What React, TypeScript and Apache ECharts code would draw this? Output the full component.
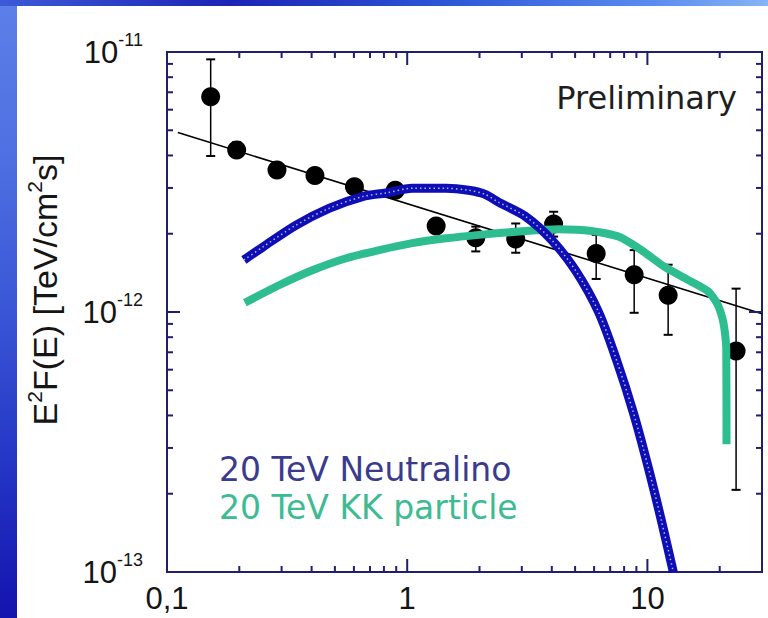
import { useEffect, useRef } from 'react';
import * as echarts from 'echarts';

// ---- data ----
const energy = [0.152, 0.195, 0.287, 0.413, 0.603, 0.892, 1.32, 1.93, 2.83, 4.07, 6.12, 8.81, 12.2, 23.4];
const flux = [6.73e-12, 4.2e-12, 3.52e-12, 3.35e-12, 3.03e-12, 2.94e-12, 2.14e-12, 1.93e-12, 1.91e-12, 2.18e-12, 1.68e-12, 1.39e-12, 1.16e-12, 0.708e-12];
const fluxHigh = [9.37e-12, 4.5e-12, 3.75e-12, 3.55e-12, 3.2e-12, 3.1e-12, 2.26e-12, 2.13e-12, 2.19e-12, 2.43e-12, 1.98e-12, 1.73e-12, 1.52e-12, 1.23e-12];
const fluxLow = [3.98e-12, 3.95e-12, 3.3e-12, 3.17e-12, 2.87e-12, 2.78e-12, 2.03e-12, 1.71e-12, 1.69e-12, 1.95e-12, 1.34e-12, 0.993e-12, 0.817e-12, 0.207e-12];

const fitEnergy = [0.111, 30];
const fitFlux = [4.9e-12, 0.985e-12];

const neutralinoEnergy = [0.209, 0.251, 0.345, 0.475, 0.652, 0.816, 1.05, 1.45, 1.8, 2.1, 2.41, 3.11, 4.0, 5.03, 6.26, 7.44, 8.75, 10.1, 11.43, 12.82];
const neutralinoFlux = [1.585e-12, 1.78e-12, 2.16e-12, 2.51e-12, 2.78e-12, 2.87e-12, 2.99e-12, 2.99e-12, 2.94e-12, 2.84e-12, 2.64e-12, 2.33e-12, 1.89e-12, 1.44e-12, 1.0e-12, 0.653e-12, 0.409e-12, 0.251e-12, 0.158e-12, 1.0e-13];

const kkEnergy = [0.211, 0.294, 0.405, 0.557, 0.765, 1.05, 1.45, 1.99, 3.11, 4.27, 5.86, 7.58, 9.44, 11.8, 15.2, 17.9, 19.5, 20.5, 21.0, 21.3, 21.35];
const kkFlux = [1.086e-12, 1.27e-12, 1.45e-12, 1.61e-12, 1.73e-12, 1.84e-12, 1.92e-12, 1.98e-12, 2.05e-12, 2.08e-12, 2.05e-12, 1.95e-12, 1.73e-12, 1.49e-12, 1.31e-12, 1.2e-12, 1.08e-12, 0.95e-12, 0.84e-12, 0.72e-12, 0.31e-12];

const xMajorTicks = [1, 10];
const xMinorTicks = [0.2, 0.3, 0.4, 0.5, 0.6, 0.7, 0.8, 0.9, 2, 3, 4, 5, 6, 7, 8, 9, 20];
const yMajorTicks = [1e-12];
const yMinorTicks = [2e-13, 3e-13, 4e-13, 5e-13, 6e-13, 7e-13, 8e-13, 9e-13, 2e-12, 3e-12, 4e-12, 5e-12, 6e-12, 7e-12, 8e-12, 9e-12];

const X_MIN = 0.1;
const X_MAX = 30;
const Y_MIN = 1e-13;
const Y_MAX = 1e-11;

const AXIS_COLOR = '#1f1f6e';
const BLUE = '#0e0eb6';
const GREEN = '#2dbd8e';
const LABEL_FONT = '"Liberation Sans", Arial, sans-serif';
const TEXT_FONT = '"DejaVu Sans", Verdana, sans-serif';

const tickLine = (x1: number, y1: number, x2: number, y2: number) => ({
  type: 'line',
  shape: { x1, y1, x2, y2 },
  style: { stroke: AXIS_COLOR, lineWidth: 2 },
});

function xTickSeries(values: number[], len: number) {
  return {
    type: 'custom',
    coordinateSystem: 'cartesian2d',
    silent: true,
    z: 8,
    data: values.map((v) => [v, 1e-12]),
    renderItem: (_p: any, api: any) => {
      const v = api.value(0);
      const b = api.coord([v, Y_MIN]);
      const t = api.coord([v, Y_MAX]);
      return {
        type: 'group',
        children: [tickLine(b[0], b[1], b[0], b[1] - len), tickLine(t[0], t[1], t[0], t[1] + len)],
      };
    },
  };
}

function yTickSeries(values: number[], len: number) {
  return {
    type: 'custom',
    coordinateSystem: 'cartesian2d',
    silent: true,
    z: 8,
    data: values.map((v) => [1, v]),
    renderItem: (_p: any, api: any) => {
      const v = api.value(1);
      const l = api.coord([X_MIN, v]);
      const r = api.coord([X_MAX, v]);
      return {
        type: 'group',
        children: [tickLine(l[0], l[1], l[0] + len, l[1]), tickLine(r[0], r[1], r[0] - len, r[1])],
      };
    },
  };
}

const isDecade = (v: number) => {
  const l = Math.log10(v);
  return Math.abs(l - Math.round(l)) < 1e-6;
};

const option: any = {
  animation: false,
  backgroundColor: '#ffffff',
  grid: {
    left: 167,
    right: 6,
    top: 52,
    bottom: 46,
    show: true,
    borderColor: AXIS_COLOR,
    borderWidth: 2,
    backgroundColor: 'transparent',
  },
  xAxis: {
    type: 'log',
    logBase: 10,
    min: X_MIN,
    max: X_MAX,
    axisLine: { show: false },
    axisTick: { show: false },
    splitLine: { show: false },
    minorTick: { show: false },
    axisLabel: {
      margin: 11,
      fontSize: 31,
      fontFamily: LABEL_FONT,
      color: '#151515',
      showMaxLabel: false,
      formatter: (v: number) => {
        if (!isDecade(v)) return '';
        return v < 1 ? String(v).replace('.', ',') : String(Math.round(v));
      },
    },
  },
  yAxis: {
    type: 'log',
    logBase: 10,
    min: Y_MIN,
    max: Y_MAX,
    axisLine: { show: false },
    axisTick: { show: false },
    splitLine: { show: false },
    axisLabel: {
      margin: 24,
      color: '#151515',
      formatter: (v: number) => {
        if (!isDecade(v)) return '';
        return `{b|10}{s|${Math.round(Math.log10(v))}}`;
      },
      rich: {
        b: { fontSize: 31, fontFamily: LABEL_FONT, color: '#151515', lineHeight: 42, verticalAlign: 'middle' },
        s: { fontSize: 18, fontFamily: LABEL_FONT, color: '#151515', lineHeight: 42, verticalAlign: 'top' },
      },
    },
  },
  graphic: [
    {
      type: 'rect',
      shape: { x: 0, y: 0, width: 17, height: 618 },
      style: {
        fill: new echarts.graphic.LinearGradient(0, 0, 0, 1, [
          { offset: 0, color: '#5d7fe8' },
          { offset: 0.25, color: '#4e70e2' },
          { offset: 0.5, color: '#3a56d6' },
          { offset: 0.75, color: '#2436c4' },
          { offset: 1, color: '#1414ae' },
        ]),
      },
      silent: true,
    },
    {
      type: 'rect',
      shape: { x: 0, y: 0, width: 768, height: 6 },
      style: {
        fill: new echarts.graphic.LinearGradient(0, 0, 1, 0, [
          { offset: 0, color: '#3c5ad8' },
          { offset: 0.3, color: '#1c24b4' },
          { offset: 0.6, color: '#2e5ad8' },
          { offset: 0.85, color: '#5a8cf0' },
          { offset: 1, color: '#86b4f4' },
        ]),
      },
      silent: true,
    },
    {
      type: 'text',
      x: 45,
      y: 290,
      rotation: Math.PI / 2,
      silent: true,
      style: {
        text: '{n|E}{s|2}{n|F(E) [TeV/cm}{s|2}{n|s]}',
        align: 'center',
        verticalAlign: 'middle',
        fill: '#151515',
        rich: {
          n: { fontSize: 34, fontFamily: LABEL_FONT, color: '#151515', lineHeight: 42, verticalAlign: 'middle' },
          s: { fontSize: 21, fontFamily: LABEL_FONT, color: '#151515', lineHeight: 42, verticalAlign: 'top' },
        },
      },
    },
    {
      type: 'text',
      x: 737,
      y: 98,
      silent: true,
      style: {
        text: 'Preliminary',
        font: `32px ${TEXT_FONT}`,
        fill: '#1e1e1e',
        align: 'right',
        verticalAlign: 'middle',
      },
    },
    {
      type: 'text',
      x: 219,
      y: 469,
      silent: true,
      style: {
        text: '20 TeV Neutralino',
        font: `33px ${TEXT_FONT}`,
        fill: '#3b3b8e',
        align: 'left',
        verticalAlign: 'middle',
      },
    },
    {
      type: 'text',
      x: 219,
      y: 507,
      silent: true,
      style: {
        text: '20 TeV KK particle',
        font: `33px ${TEXT_FONT}`,
        fill: '#3dbb92',
        align: 'left',
        verticalAlign: 'middle',
      },
    },
  ],
  series: [
    {
      name: 'fit',
      type: 'line',
      data: fitEnergy.map((e, i) => [e, fitFlux[i]]),
      symbol: 'none',
      lineStyle: { color: '#000', width: 1.6 },
      z: 2,
      silent: true,
    },
    {
      name: 'errors',
      type: 'custom',
      coordinateSystem: 'cartesian2d',
      silent: true,
      z: 3,
      data: energy.map((e, i) => [e, flux[i], fluxLow[i], fluxHigh[i]]),
      encode: { x: 0, y: 1 },
      renderItem: (_p: any, api: any) => {
        const x = api.value(0);
        const lo = api.coord([x, api.value(2)]);
        const hi = api.coord([x, api.value(3)]);
        const hw = 4.5;
        const st = { stroke: '#000', lineWidth: 1.5 };
        return {
          type: 'group',
          children: [
            { type: 'line', shape: { x1: lo[0], y1: lo[1], x2: hi[0], y2: hi[1] }, style: st },
            { type: 'line', shape: { x1: lo[0] - hw, y1: lo[1], x2: lo[0] + hw, y2: lo[1] }, style: { ...st, lineWidth: 2 } },
            { type: 'line', shape: { x1: hi[0] - hw, y1: hi[1], x2: hi[0] + hw, y2: hi[1] }, style: { ...st, lineWidth: 2 } },
          ],
        };
      },
    },
    {
      name: 'data',
      type: 'scatter',
      data: energy.map((e, i) => [e, flux[i]]),
      symbol: 'circle',
      symbolSize: 19,
      itemStyle: { color: '#000', opacity: 1 },
      z: 3,
      silent: true,
    },
    {
      name: '20 TeV KK particle',
      type: 'line',
      data: kkEnergy.map((e, i) => [e, kkFlux[i]]),
      symbol: 'none',
      smooth: 0.2,
      lineStyle: { color: GREEN, width: 8, cap: 'butt', join: 'round' },
      z: 4,
      silent: true,
    },
    {
      name: '20 TeV Neutralino',
      type: 'line',
      data: neutralinoEnergy.map((e, i) => [e, neutralinoFlux[i]]),
      symbol: 'none',
      smooth: 0.3,
      lineStyle: { color: BLUE, width: 9, cap: 'butt', join: 'round' },
      z: 5,
      silent: true,
    },
    {
      name: 'neutralino-dots',
      type: 'line',
      data: neutralinoEnergy.map((e, i) => [e, neutralinoFlux[i]]),
      symbol: 'none',
      smooth: 0.3,
      lineStyle: { color: 'rgba(255,255,255,0.7)', width: 1.5, type: [1.5, 3] },
      z: 6,
      silent: true,
    },
    xTickSeries(xMinorTicks, 6),
    xTickSeries(xMajorTicks, 13),
    yTickSeries(yMinorTicks, 6),
    yTickSeries(yMajorTicks, 13),
  ],
};

export default function App() {
  const ref = useRef<HTMLDivElement>(null);
  useEffect(() => {
    if (!ref.current) return;
    const chart = echarts.init(ref.current, null, { renderer: 'svg' });
    chart.setOption(option);
    return () => chart.dispose();
  }, []);
  return <div ref={ref} style={{ position: 'fixed', left: 0, top: 0, width: 768, height: 618 }} />;
}
